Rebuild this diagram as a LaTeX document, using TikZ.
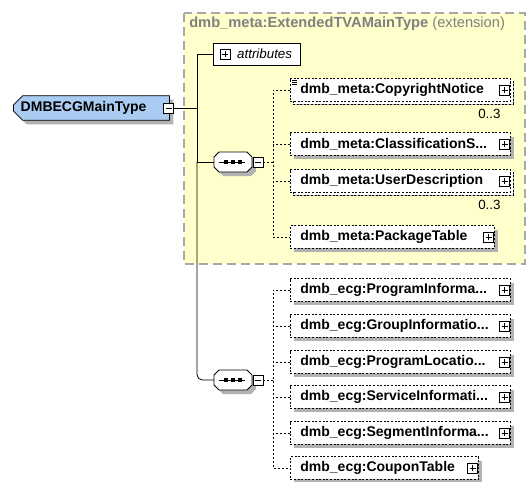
\documentclass[tikz,border=0pt]{standalone}
\usepackage{fontspec}
\setmainfont{Liberation Sans}
\usetikzlibrary{shapes.misc,shadows,calc}
\definecolor{extfill}{RGB}{255,255,204}
\definecolor{extline}{RGB}{168,168,168}
\definecolor{typefill}{RGB}{170,204,242}
\definecolor{shade}{RGB}{178,178,178}
\definecolor{titlegray}{RGB}{128,128,128}
\tikzset{
  elem/.style={draw, fill=white, dash pattern={on 1.5pt off 1.2pt}, line width=0.6pt,
    anchor=west, minimum height=17pt, inner xsep=7.5pt, inner ysep=0pt,
    text width=150pt, align=left, font=\bfseries\fontsize{10.5}{12}\selectfont,
    drop shadow={shadow xshift=3pt, shadow yshift=-3pt, fill=shade, opacity=1}},
  multi/.style={copy shadow={shadow xshift=2pt, shadow yshift=-2pt, draw=black, fill=white,
    dash pattern={on 1.5pt off 1.2pt}, opacity=1}},
  plusbox/.style={draw, solid, fill=white, line width=0.5pt, minimum size=7.5pt, inner sep=0pt,
    path picture={\draw[line width=0.5pt]
      ($(path picture bounding box.west)!0.2!(path picture bounding box.east)$) --
      ($(path picture bounding box.west)!0.8!(path picture bounding box.east)$)
      ($(path picture bounding box.south)!0.2!(path picture bounding box.north)$) --
      ($(path picture bounding box.south)!0.8!(path picture bounding box.north)$);}},
  minusbox/.style={draw, solid, fill=white, line width=0.5pt, minimum size=7.5pt, inner sep=0pt,
    path picture={\draw[line width=0.5pt]
      ($(path picture bounding box.west)!0.2!(path picture bounding box.east)$) --
      ($(path picture bounding box.west)!0.8!(path picture bounding box.east)$);}},
  typebox/.style={chamfered rectangle, chamfered rectangle corners={north west,south west},
    chamfered rectangle xsep=3.5pt, draw, fill=typefill, line width=0.6pt,
    minimum width=116pt, minimum height=18.5pt, inner xsep=2pt, inner ysep=0pt,
    text width=106pt, align=left, font=\bfseries\fontsize{10.5}{12}\selectfont,
    drop shadow={shadow xshift=3pt, shadow yshift=-3pt, fill=shade, opacity=1}},
  seqshape/.style={draw, fill=white, line width=0.6pt,
    drop shadow={shadow xshift=3pt, shadow yshift=-3pt, fill=shade, opacity=1}},
  seqbox/.style={rectangle, anchor=west, minimum width=28.5pt, minimum height=15pt, inner sep=0pt},
  attrbox/.style={draw, fill=white, line width=0.6pt, anchor=west, minimum height=16.5pt,
    inner xsep=6pt, inner ysep=0pt, text width=53pt, align=right,
    font=\itshape\fontsize{10}{12}\selectfont},
  occurs/.style={anchor=north east, inner sep=0pt, font=\fontsize{10}{12}\selectfont},
  link/.style={line width=0.6pt, dash pattern={on 1.5pt off 1.5pt}},
  bus/.style={line width=0.6pt},
  extframe/.style={draw=extline, fill=extfill, line width=1.1pt, dash pattern={on 7pt off 3.5pt}}
}
\begin{document}
\begin{tikzpicture}[x=0.75pt,y=0.75pt,yscale=-1,xscale=1]
\useasboundingbox (0,0) rectangle (527,481);

%Shape: extension frame
\draw[extframe] (184,13) rectangle (525,264);
% Text Node
\node[anchor=west, inner sep=0.75pt, text=titlegray, font=\fontsize{11}{13}\selectfont] (extTitle) at (188,24) {\textbf{dmb\_meta:ExtendedTVAMainType} (extension)};

%Main type
\node[typebox, anchor=west] (mainType) at (13,108) {DMBECGMainType};
\node[minusbox, anchor=center] (mainMinus) at ($(mainType.east)+(-1,0)$) {};

%Attributes
\node[attrbox] (attr) at (213,54) {attributes};
\node[plusbox] (attrPlus) at ($(attr.west)+(12,0)$) {};

%Shape: sequence compositors
\foreach \y in {162,380} {
  \draw[seqshape] (214,\y) -- ++(0,-5) -- ++(5,-5) -- ++(28,0) -- ++(5,5) -- ++(0,10)
    -- ++(-5,5) -- ++(-28,0) -- ++(-5,-5) -- cycle;
  \draw[line width=0.6pt] (219,\y) -- (245,\y);
  \foreach \x in {226,233,240}
    \fill (\x,\y) +(-1.6,-1.6) rectangle +(1.6,1.6);
}
\node[seqbox] (seqMeta) at (214,162) {};
\node[minusbox, anchor=west] (seqMetaMinus) at (seqMeta.east) {};
\node[seqbox] (seqEcg) at (214,380) {};
\node[minusbox, anchor=west] (seqEcgMinus) at (seqEcg.east) {};

%Elements of dmb_meta
\node[elem, multi] (copyright) at (290,90) {dmb\_meta:CopyrightNotice};
\node[elem] (classif) at (290,144) {dmb\_meta:ClassificationS...};
\node[elem, multi] (userDesc) at (290,181) {dmb\_meta:UserDescription};
\node[elem, text width=138pt] (pkgTable) at (290,237) {dmb\_meta:PackageTable};

%Elements of dmb_ecg
\node[elem] (progInfo) at (290,290) {dmb\_ecg:ProgramInforma...};
\node[elem] (groupInfo) at (290,326) {dmb\_ecg:GroupInformatio...};
\node[elem] (progLoc) at (290,362) {dmb\_ecg:ProgramLocatio...};
\node[elem] (servInfo) at (290,397) {dmb\_ecg:ServiceInformati...};
\node[elem] (segInfo) at (290,433) {dmb\_ecg:SegmentInforma...};
\node[elem, text width=126pt] (coupon) at (290,468) {dmb\_ecg:CouponTable};

%Plus boxes
\foreach \n in {copyright,classif,userDesc,pkgTable,progInfo,groupInfo,progLoc,servInfo,segInfo,coupon}
  \node[plusbox] (\n Plus) at ($(\n.east)+(-6,0)$) {};

%Occurrences
\node[occurs] (copyrightOcc) at ($(copyright.south east)+(-10,7)$) {0..3};
\node[occurs] (userDescOcc) at ($(userDesc.south east)+(-10,7)$) {0..3};

%Mixed mark
\draw[line width=0.4pt] ($(copyright.north west)+(2,2)$) -- ++(5,0)
  ($(copyright.north west)+(2,4)$) -- ++(5,0) ($(copyright.north west)+(2,6)$) -- ++(5,0);

%Solid connectors
\coordinate (bus) at (197,0);
\draw[bus] (mainMinus.east) -- (mainMinus.east -| bus);
\draw[bus] (attr.west) -| (bus |- seqMeta.west) -- (seqMeta.west);
\draw[bus, rounded corners=4] (bus |- seqMeta.west) |- (seqEcg.west);

%Dashed connectors
\coordinate (rake) at (273,0);
\draw[link] (seqMetaMinus.east) -- (seqMetaMinus.east -| rake);
\draw[link] (copyright.west) -| (rake |- pkgTable.west) -- (pkgTable.west);
\foreach \n in {classif,userDesc}
  \draw[link] (\n.west) -- (\n.west -| rake);
\draw[link] (seqEcgMinus.east) -- (seqEcgMinus.east -| rake);
\draw[link] (progInfo.west) -| (rake |- coupon.west) -- (coupon.west);
\foreach \n in {groupInfo,progLoc,servInfo,segInfo}
  \draw[link] (\n.west) -- (\n.west -| rake);

\end{tikzpicture}
\end{document}
